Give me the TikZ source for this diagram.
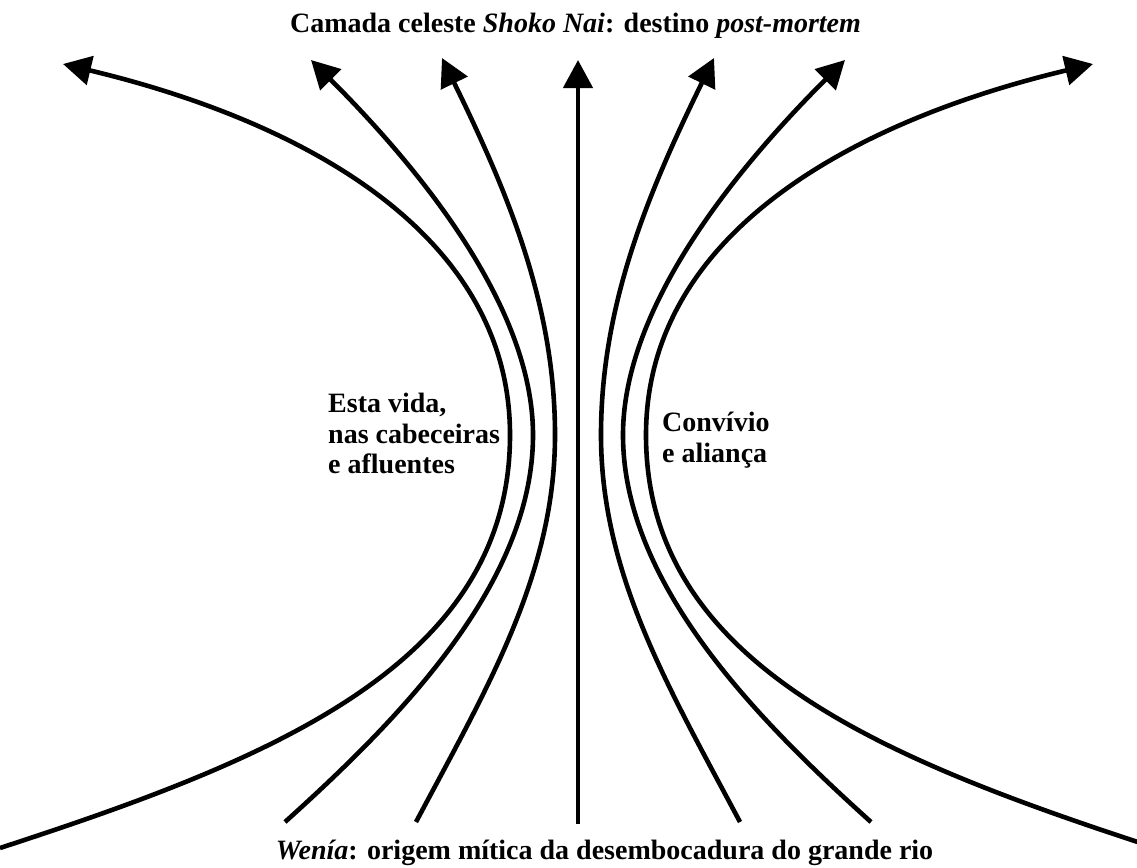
\documentclass[tikz,border=0pt]{standalone}
\usepackage{fontspec}
\setmainfont{Liberation Serif}
\usetikzlibrary{arrows.meta}
\newcommand\myleftcurves{%
  % outer curve
  \coordinate (b1) at (0,848);
  \coordinate (v1) at (510,435);
  \coordinate (t1) at (63,64);
  \draw[flow] (b1) .. controls (270,760) and (510,665) .. (v1)
                   .. controls (510,235) and (306,122) .. (t1);
  % middle curve
  \coordinate (b2) at (285,822);
  \coordinate (v2) at (533,435);
  \coordinate (t2) at (311,60);
  \draw[flow] (b2) .. controls (396,722) and (533,585) .. (v2)
                   .. controls (533,305) and (417,166) .. (t2);
  % inner curve
  \coordinate (b3) at (416,822);
  \coordinate (v3) at (555,435);
  \coordinate (t3) at (442,58);
  \draw[flow] (b3) .. controls (486,690) and (555,575) .. (v3)
                   .. controls (555,305) and (508,193) .. (t3);
}
\begin{document}
\begin{tikzpicture}[x=1pt,y=-1pt,
  flow/.style={line width=4.6pt, -{Triangle[length=28pt,width=29pt]}},
  lab/.style={font=\fontsize{28}{30.5}\selectfont\bfseries, inner sep=0pt}]
\useasboundingbox (0,0) rectangle (1137,867);
\fill[white] (0,0) rectangle (1137,867);
% left side curves
\myleftcurves
% mirrored right side
\begin{scope}[shift={(1156,0)}, xscale=-1]
\myleftcurves
\end{scope}
% central axis
\coordinate (cbot) at (578,824);
\coordinate (ctop) at (578,60);
\draw[flow] (cbot) -- (ctop);
% texts
\node[lab, anchor=base] (title) at (575.5,33) {Camada celeste \textit{Shoko Nai}: destino \textit{post-mortem}};
\node[lab, anchor=base] (origin) at (604.5,859) {\textit{Wenía}: origem mítica da desembocadura do grande rio};
\node[lab, anchor=north west, align=left] (life) at (328,393) {Esta vida,\\nas cabeceiras\\e afluentes};
\node[lab, anchor=north west, align=left] (conv) at (662,412) {Convívio\\e aliança};
\end{tikzpicture}
\end{document}
